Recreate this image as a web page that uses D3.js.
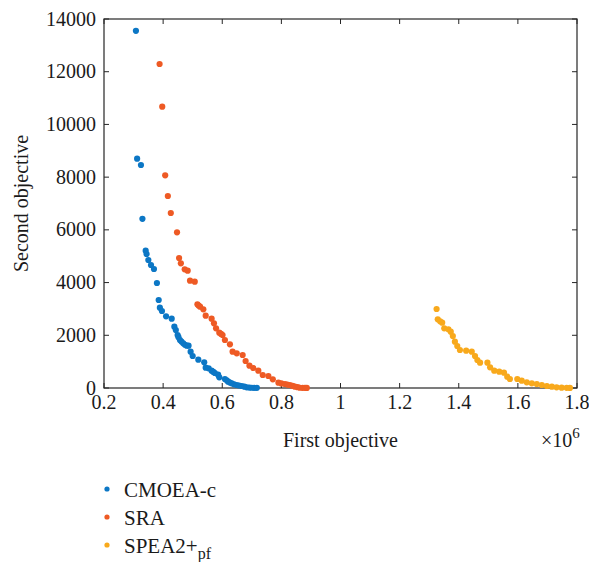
<!DOCTYPE html>
<html><head><meta charset="utf-8">
<script src="https://cdn.jsdelivr.net/npm/d3@7"></script>
<style>body{margin:0;background:#fff}svg{display:block}</style>
</head><body>
<script>
const xTicks = [0.2,0.4,0.6,0.8,1,1.2,1.4,1.6,1.8];
const yTicks = [0,2000,4000,6000,8000,10000,12000,14000];
const seriesNames = ["CMOEA-c","SRA","SPEA2+"];
const seriesColors = ["#0C77C5","#EE5A24","#F8A91C"];

const cmoeaX = [0.308,0.312,0.325,0.330,0.341,0.344,0.350,0.359,0.369,0.379,0.385,0.389,0.396,0.410,0.429,0.438,0.443,0.449,0.452,0.457,0.462,0.468,0.474,0.480,0.486,0.493,0.500,0.519,0.539,0.544,0.554,0.564,0.570,0.575,0.586,0.590,0.609,0.615,0.620,0.626,0.632,0.640,0.649,0.657,0.666,0.675,0.683,0.692,0.700,0.708,0.717];
const cmoeaY = [13550,8700,8460,6420,5210,5084,4856,4667,4515,3984,3339,3047,2921,2720,2630,2326,2200,2011,1930,1821,1760,1695,1640,1606,1606,1378,1214,1074,975,770,747,657,610,569,505,406,341,290,240,205,178,140,114,95,76,50,26,18,10,7,5];

const sraX = [0.388,0.397,0.407,0.416,0.426,0.447,0.454,0.460,0.473,0.483,0.491,0.507,0.516,0.520,0.525,0.536,0.544,0.564,0.572,0.579,0.590,0.596,0.601,0.609,0.626,0.635,0.649,0.669,0.679,0.692,0.705,0.722,0.737,0.756,0.771,0.790,0.800,0.812,0.820,0.829,0.838,0.846,0.855,0.863,0.872,0.880,0.886];
const sraY = [12293,10673,8070,7285,6640,5907,4932,4730,4503,4450,4071,4033,3176,3130,3085,2985,2743,2630,2453,2264,2099,2050,2011,1821,1656,1378,1315,1252,1024,847,759,657,493,455,329,202,175,152,130,114,80,50,30,10,6,5,4];

const speaX = [1.325,1.329,1.337,1.344,1.351,1.365,1.373,1.380,1.387,1.395,1.404,1.425,1.444,1.455,1.463,1.472,1.497,1.506,1.520,1.537,1.553,1.564,1.573,1.598,1.613,1.630,1.647,1.664,1.681,1.698,1.715,1.731,1.748,1.765,1.776];
const speaY = [2997,2606,2530,2478,2264,2227,2137,1973,1757,1593,1442,1416,1378,1214,1062,961,961,784,657,620,582,430,341,341,278,215,177,152,114,76,50,25,12,5,3];

const W = 589, H = 562;
const m = {l:104, t:19, r:577, b:388};
const svg = d3.select("body").append("svg").attr("width",W).attr("height",H)
  .style("font-family",'"Liberation Serif"');
const axisColor = "#262626";
const textColor = "#1a1a1a";

const x = d3.scaleLinear().domain([0.2,1.8]).range([m.l,m.r]);
const y = d3.scaleLinear().domain([0,14000]).range([m.b,m.t]);

svg.append("rect").attr("x",m.l).attr("y",m.t).attr("width",m.r-m.l).attr("height",m.b-m.t)
  .attr("fill","none").attr("stroke",axisColor).attr("stroke-width",1.2);

const tl = 5;
const fmtX = d => d===1 ? "1" : d3.format(".1f")(d);
xTicks.forEach(t=>{
  svg.append("line").attr("x1",x(t)).attr("x2",x(t)).attr("y1",m.b).attr("y2",m.b-tl).attr("stroke",axisColor);
  svg.append("line").attr("x1",x(t)).attr("x2",x(t)).attr("y1",m.t).attr("y2",m.t+tl).attr("stroke",axisColor);
  svg.append("text").attr("x",x(t)).attr("y",m.b+21).attr("text-anchor","middle")
    .style("font-size","20px").attr("fill",textColor).text(fmtX(t));
});
yTicks.forEach(t=>{
  svg.append("line").attr("x1",m.l).attr("x2",m.l+tl).attr("y1",y(t)).attr("y2",y(t)).attr("stroke",axisColor);
  svg.append("line").attr("x1",m.r).attr("x2",m.r-tl).attr("y1",y(t)).attr("y2",y(t)).attr("stroke",axisColor);
  svg.append("text").attr("x",m.l-8).attr("y",y(t)+6.5).attr("text-anchor","end")
    .style("font-size","20px").attr("fill",textColor).text(String(t));
});

svg.append("text").attr("x",(m.l+m.r)/2).attr("y",447).attr("text-anchor","middle")
  .style("font-size","20px").attr("fill",textColor).text("First objective");
const ex = svg.append("text").attr("x",541).attr("y",447)
  .style("font-size","20px").attr("fill",textColor);
ex.append("tspan").text("×10");
ex.append("tspan").attr("dy",-9).style("font-size","15px").text("6");
svg.append("text").attr("transform",`translate(28,${(m.t+m.b)/2}) rotate(-90)`).attr("text-anchor","middle")
  .style("font-size","20px").attr("fill",textColor).text("Second objective");

const series = [[cmoeaX,cmoeaY],[sraX,sraY],[speaX,speaY]];
series.forEach((s,i)=>{
  const data = s[0].map((v,k)=>[v,s[1][k]]);
  svg.append("g").selectAll("circle").data(data).join("circle")
    .attr("cx",d=>x(d[0])).attr("cy",d=>y(d[1])).attr("r",3.1)
    .attr("fill",seriesColors[i]);
});

const ly = [490,518,546];
seriesNames.forEach((n,i)=>{
  svg.append("circle").attr("cx",107).attr("cy",ly[i]-1).attr("r",2.6).attr("fill",seriesColors[i]);
  const t = svg.append("text").attr("x",124).attr("y",ly[i]+7)
    .style("font-size","21px").attr("fill",textColor);
  t.append("tspan").text(n);
  if(i===2){ t.append("tspan").attr("dy",6).style("font-size","16px").text("pf"); }
});
</script>
</body></html>
